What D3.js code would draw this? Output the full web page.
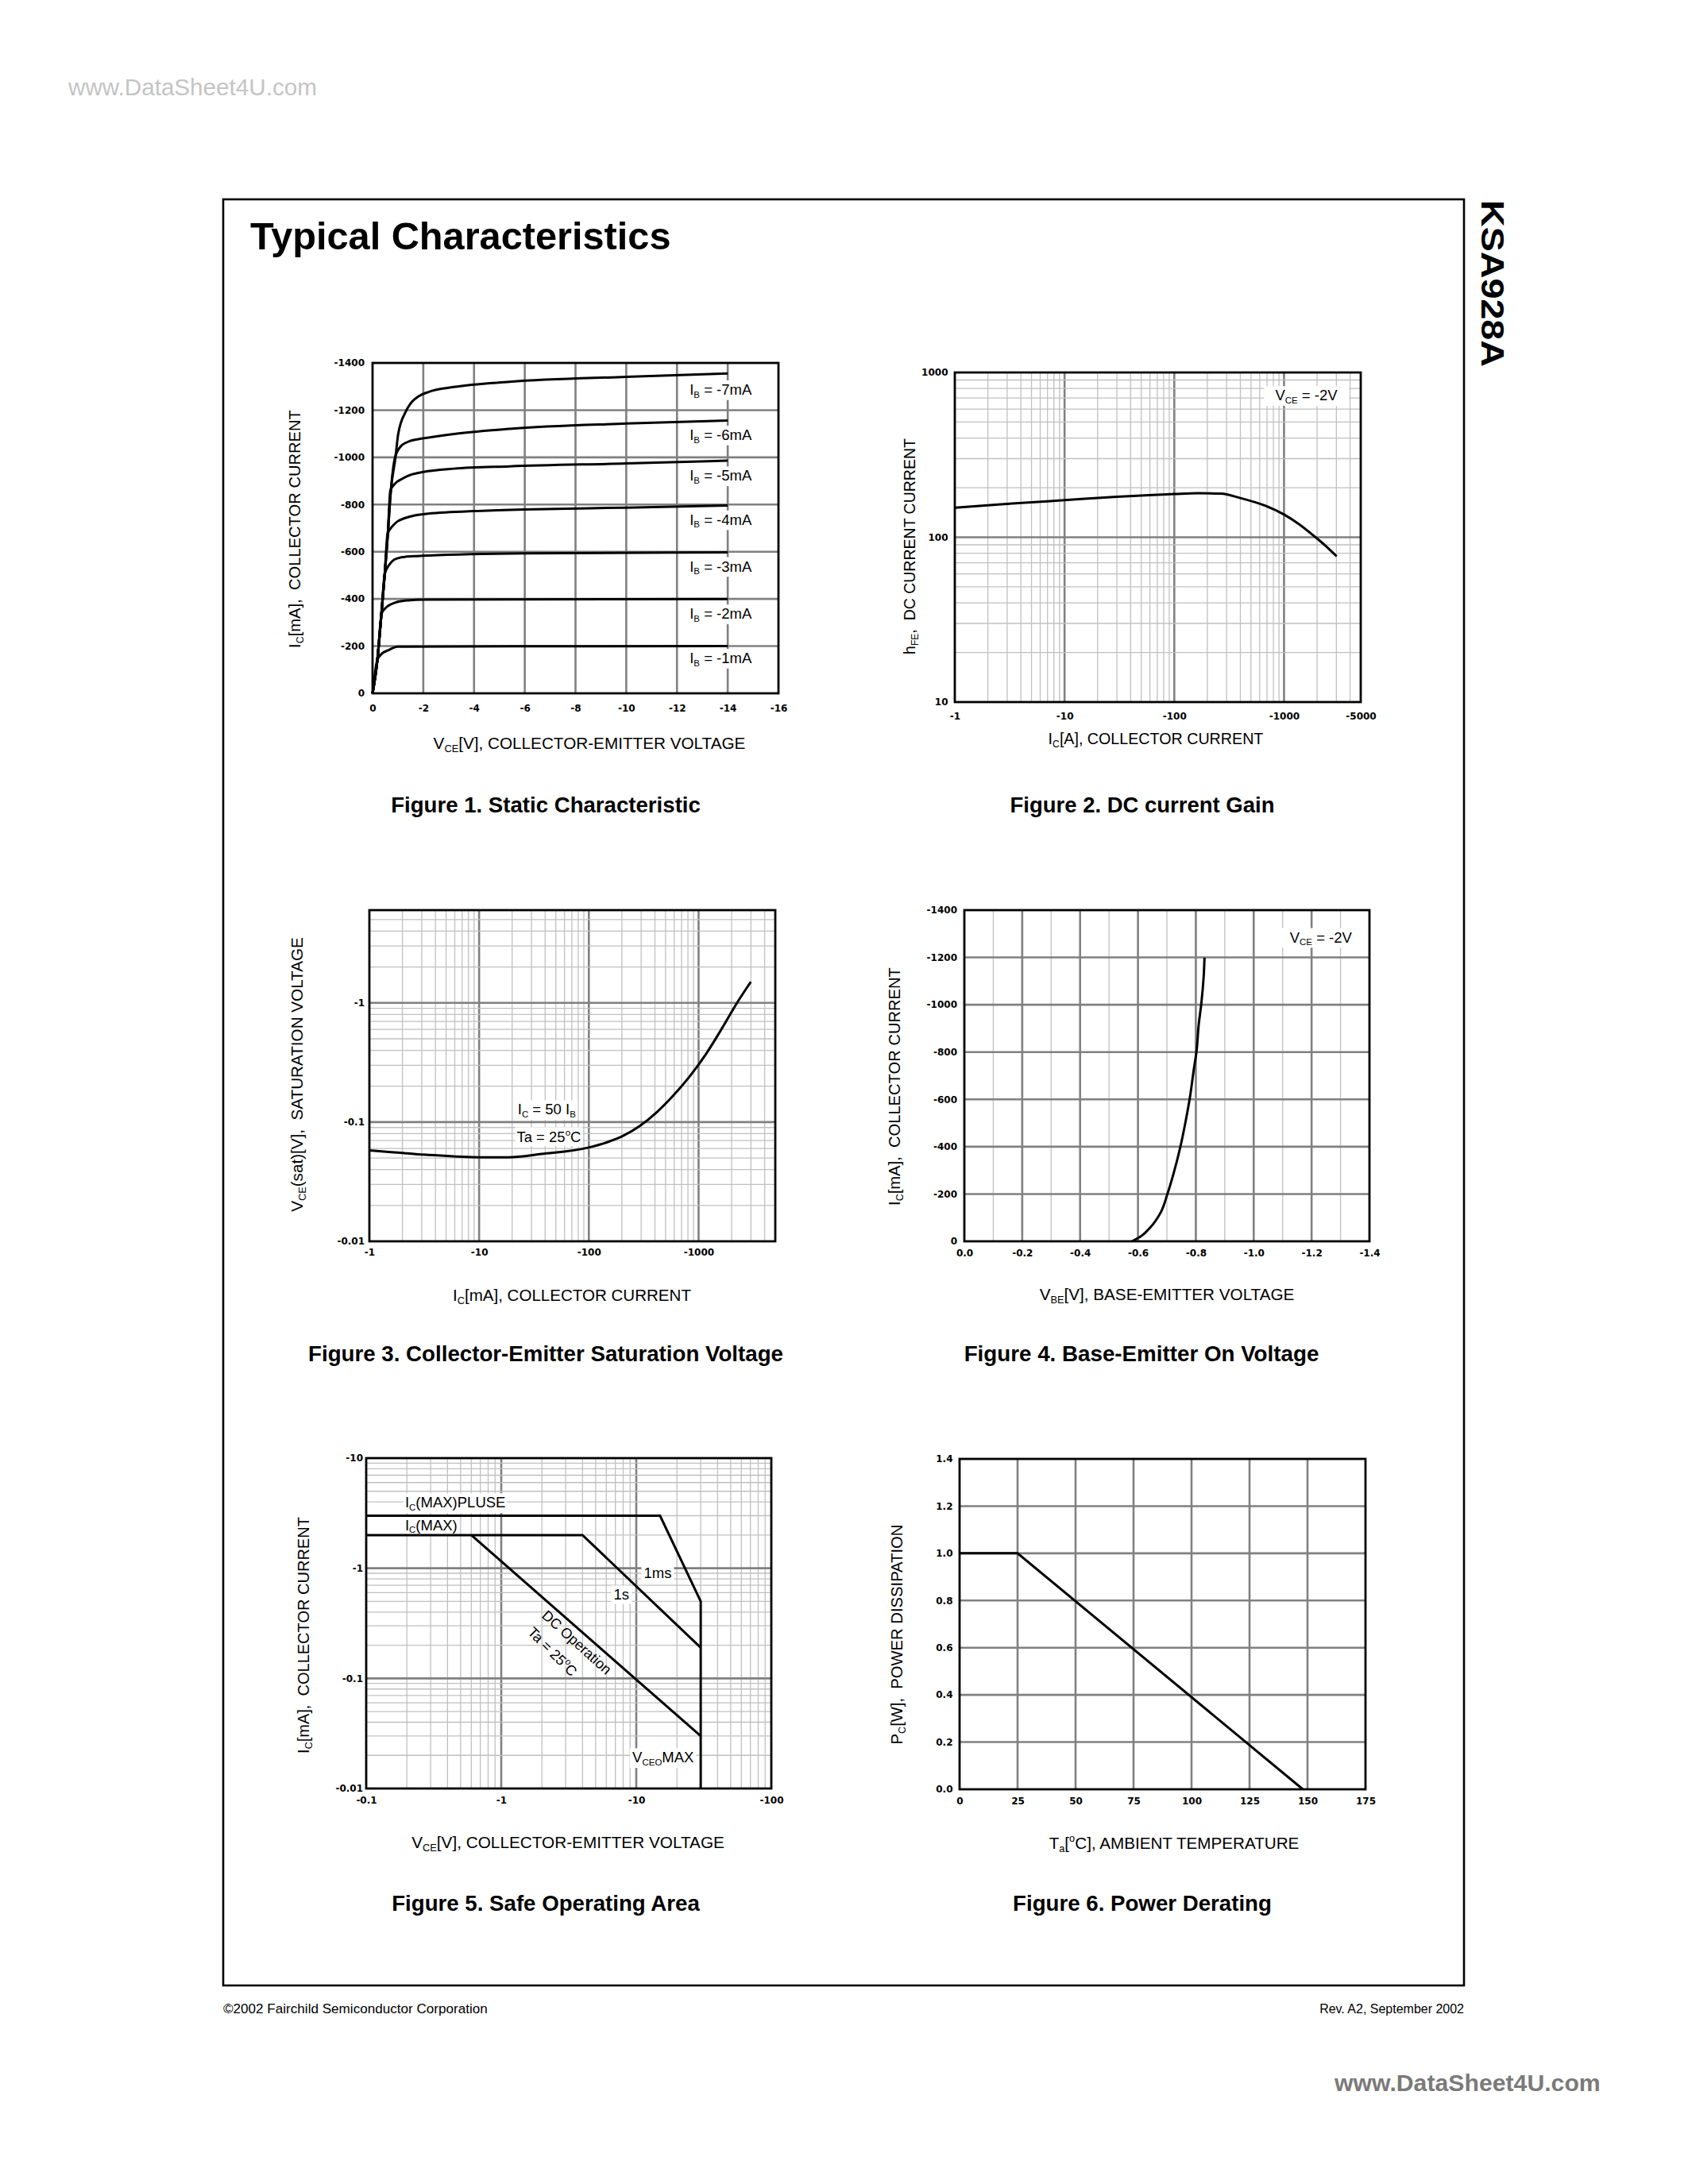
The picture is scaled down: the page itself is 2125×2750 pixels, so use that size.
<!DOCTYPE html>
<html><head><meta charset="utf-8"><title>KSA928A Typical Characteristics</title>
<script src="https://cdn.jsdelivr.net/npm/d3@7/dist/d3.min.js"></script>
<style>html,body{margin:0;padding:0;background:#fff}svg{display:block}text{white-space:pre}</style>
</head><body>
<svg id="page" width="2125" height="2750" xmlns="http://www.w3.org/2000/svg"></svg>
<script>
// ================= DATA =================
// Figure 1 – Static characteristic  (VCE [V], IC [mA])
const fig1XTicks = [0,-2,-4,-6,-8,-10,-12,-14,-16];
const fig1XLabels = ["0","-2","-4","-6","-8","-10","-12","-14","-16"];
const fig1YTicks = [0,-200,-400,-600,-800,-1000,-1200,-1400];
const fig1YLabels = ["0","-200","-400","-600","-800","-1000","-1200","-1400"];
const fig1IbNames = ["-7mA","-6mA","-5mA","-4mA","-3mA","-2mA","-1mA"];
const fig1Ib7 = [[0,0],[-0.19,-142],[-0.35,-338],[-0.48,-505],[-0.6,-673],[-0.72,-858],[-0.9,-997],[-1.01,-1098],[-1.3,-1192],[-1.55,-1235],[-1.8,-1258],[-2.2,-1277],[-3.2,-1298],[-5.4,-1320],[-10,-1341],[-14,-1355]];
const fig1Ib6 = [[0,0],[-0.19,-142],[-0.35,-338],[-0.48,-505],[-0.6,-673],[-0.72,-858],[-0.88,-997],[-1.1,-1045],[-1.4,-1066],[-1.8,-1077],[-2.2,-1084],[-3.2,-1099],[-5.4,-1121],[-10,-1143],[-14,-1156]];
const fig1Ib5 = [[0,0],[-0.19,-142],[-0.35,-338],[-0.48,-505],[-0.6,-673],[-0.7,-858],[-0.88,-888],[-1.15,-908],[-1.5,-926],[-2.0,-938],[-3.2,-952],[-5.4,-962],[-10,-974],[-14,-986]];
const fig1Ib4 = [[0,0],[-0.19,-142],[-0.35,-338],[-0.48,-505],[-0.59,-673],[-0.79,-709],[-0.99,-729],[-1.26,-742],[-1.66,-754],[-2.06,-760],[-4,-772],[-6,-779],[-10,-787],[-14,-796]];
const fig1Ib3 = [[0,0],[-0.19,-142],[-0.35,-338],[-0.48,-505],[-0.66,-545],[-0.86,-567],[-1.12,-576],[-1.66,-581],[-2.2,-584],[-6,-593],[-14,-597]];
const fig1Ib2 = [[0,0],[-0.19,-142],[-0.36,-338],[-0.55,-365],[-0.72,-377],[-0.99,-388],[-1.39,-394],[-2.06,-397],[-14,-400]];
const fig1Ib1 = [[0,0],[-0.19,-142],[-0.39,-170],[-0.59,-181],[-0.99,-198],[-14,-200]];

// Figure 2 – DC current gain (IC, hFE), VCE = -2V
const fig2XTicks = [-1,-10,-100,-1000,-5000];
const fig2XLabels = ["-1","-10","-100","-1000","-5000"];
const fig2YTicks = [10,100,1000];
const fig2YLabels = ["10","100","1000"];
const fig2Ic  = [-1,-2.8,-10,-30,-100,-165,-265,-400,-686,-1000,-1353,-1900,-2416,-3020];
const fig2Hfe = [151,159,168,176,183,185,184,173,154.7,137.4,120.8,101.1,88.2,76.6];

// Figure 3 – Collector-emitter saturation voltage (IC [mA], VCE(sat) [V])
const fig3XTicks = [-1,-10,-100,-1000];
const fig3XLabels = ["-1","-10","-100","-1000"];
const fig3YTicks = [-0.01,-0.1,-1];
const fig3YLabels = ["-0.01","-0.1","-1"];
const fig3Ic   = [-1,-3.3,-10,-18.5,-37,-100,-147,-207,-293,-413,-583,-824,-1163,-1643,-2240,-2994];
const fig3Vsat = [-0.058,-0.0533,-0.0507,-0.0507,-0.054,-0.0612,-0.0678,-0.077,-0.0932,-0.1204,-0.1656,-0.2398,-0.3701,-0.6166,-1.0,-1.502];

// Figure 4 – Base-emitter on voltage (VBE [V], IC [mA])
const fig4XTicks = [0,-0.2,-0.4,-0.6,-0.8,-1.0,-1.2,-1.4];
const fig4XLabels = ["0.0","-0.2","-0.4","-0.6","-0.8","-1.0","-1.2","-1.4"];
const fig4YTicks = [0,-200,-400,-600,-800,-1000,-1200,-1400];
const fig4YLabels = ["0","-200","-400","-600","-800","-1000","-1200","-1400"];
const fig4Vbe = [-0.579,-0.611,-0.645,-0.679,-0.702,-0.724,-0.747,-0.764,-0.779,-0.793,-0.802,-0.81,-0.819,-0.827,-0.83];
const fig4Ic  = [0,-22,-62,-123,-201,-291,-402,-503,-604,-727,-800,-917,-1006,-1118,-1199];

// Figure 5 – Safe operating area (VCE [V], IC [A])
const fig5XTicks = [-0.1,-1,-10,-100];
const fig5XLabels = ["-0.1","-1","-10","-100"];
const fig5YTicks = [-0.01,-0.1,-1,-10];
const fig5YLabels = ["-0.01","-0.1","-1","-10"];
const fig5PulseV = [-0.1,-15,-30,-30];
const fig5PulseI = [-3,-3,-0.5,-0.01];
const fig5OneSecV = [-0.1,-4,-30];
const fig5OneSecI = [-2,-2,-0.19];
const fig5DcV = [-0.6,-30];
const fig5DcI = [-2,-0.03];

// Figure 6 – Power derating (Ta [°C], PC [W])
const fig6XTicks = [0,25,50,75,100,125,150,175];
const fig6XLabels = ["0","25","50","75","100","125","150","175"];
const fig6YTicks = [0,0.2,0.4,0.6,0.8,1.0,1.2,1.4];
const fig6YLabels = ["0.0","0.2","0.4","0.6","0.8","1.0","1.2","1.4"];
const fig6Ta = [0,25,148];
const fig6Pc = [1.0,1.0,0];

// ================= DRAWING =================
const svg = d3.select('#page');
const FONT = "'Liberation Sans', Arial, Helvetica, sans-serif";
const TFONT = "'DejaVu Sans', 'Liberation Sans', sans-serif";
svg.append('rect').attr('width',2125).attr('height',2750).attr('fill','#fff');
const gridLayer = svg.append('g');
const boxLayer = svg.append('g');
const curveLayer = svg.append('g');
const frameLayer = svg.append('g');
const textLayer = svg.append('g');

function rich(parent, parts, size, opts) {
  opts = opts || {};
  const t = parent.append('text').attr('font-family', FONT).attr('font-size', size)
    .attr('font-weight', opts.weight || 'normal').attr('fill', opts.fill || '#000');
  if (opts.anchor) t.attr('text-anchor', opts.anchor);
  let shift = 0;
  parts.forEach(p => {
    const txt = Array.isArray(p) ? p[0] : p;
    const mode = Array.isArray(p) ? p[1] : '';
    const ts = t.append('tspan').text(txt);
    let target = 0;
    if (mode === 'sub') { ts.attr('font-size', size * 0.62); target = size * 0.2; }
    else if (mode === 'sup') { ts.attr('font-size', size * 0.62); target = -size * 0.42; }
    if (target !== shift) { ts.attr('dy', target - shift); shift = target; }
  });
  return t;
}
function fitRich(parent, parts, size, width, opts) {
  let t = rich(parent, parts, size, opts);
  const w = t.node().getBBox().width;
  t.remove();
  return rich(parent, parts, size * width / w, opts);
}
function hTitle(parts, cx, baseline, width, opts) {
  opts = Object.assign({anchor: 'middle'}, opts || {});
  const t = fitRich(textLayer, parts, 20, width, opts);
  t.attr('x', cx).attr('y', baseline);
  return t;
}
function vTitle(parts, bx, cy, width) {
  const t = fitRich(textLayer, parts, 20, width, {anchor: 'middle'});
  t.attr('transform', `translate(${bx},${cy}) rotate(-90)`);
  return t;
}
function label(parts, size, x, yc, anchor, box) {
  const t = rich(textLayer, parts, size, {anchor: anchor || 'start'});
  t.attr('x', x).attr('y', yc + size * 0.36);
  if (box) {
    const b = t.node().getBBox();
    boxLayer.append('rect').attr('x', b.x - box).attr('y', b.y - 1).attr('width', b.width + 2 * box)
      .attr('height', b.height + 2).attr('fill', '#fff');
  }
  return t;
}
function isPow10(v) { const l = Math.log10(Math.abs(v)); return Math.abs(l - Math.round(l)) < 1e-9; }

function gridV(xs, vals, P, major) {
  gridLayer.append('g').selectAll('line').data(vals).join('line')
    .attr('x1', d => xs(d)).attr('x2', d => xs(d)).attr('y1', P.t).attr('y2', P.b)
    .attr('stroke', major ? '#808080' : '#c0c0c0').attr('stroke-width', major ? 2.6 : 1.3);
}
function gridH(ys, vals, P, major) {
  gridLayer.append('g').selectAll('line').data(vals).join('line')
    .attr('y1', d => ys(d)).attr('y2', d => ys(d)).attr('x1', P.l).attr('x2', P.r)
    .attr('stroke', major ? '#808080' : '#c0c0c0').attr('stroke-width', major ? 2.6 : 1.3);
}
function logGrid(xs, P, vertical) {
  const dom = xs.domain();
  const vals = xs.ticks().filter(v => Math.abs(v - dom[0]) > 1e-12 && Math.abs(v - dom[1]) > 1e-12);
  const maj = vals.filter(isPow10), min = vals.filter(v => !isPow10(v));
  if (vertical) { gridV(xs, min, P, false); gridV(xs, maj, P, true); }
  else { gridH(xs, min, P, false); gridH(xs, maj, P, true); }
}
function frame(P) {
  frameLayer.append('rect').attr('x', P.l).attr('y', P.t).attr('width', P.r - P.l).attr('height', P.b - P.t)
    .attr('fill', 'none').attr('stroke', '#000').attr('stroke-width', 2.8);
}
function axes(xs, ys, P, xt, xl, yt, yl, xp, yp) {
  const gx = textLayer.append('g').attr('transform', `translate(0,${P.b})`)
    .call(d3.axisBottom(xs).tickValues(xt).tickFormat((d, i) => xl[i]).tickSize(0).tickPadding(xp));
  gx.select('.domain').remove();
  gx.attr('font-family', TFONT).attr('font-size', 12).attr('font-weight', 'bold');
  const gy = textLayer.append('g').attr('transform', `translate(${P.l},0)`)
    .call(d3.axisLeft(ys).tickValues(yt).tickFormat((d, i) => yl[i]).tickSize(0).tickPadding(yp));
  gy.select('.domain').remove();
  gy.attr('font-family', TFONT).attr('font-size', 12).attr('font-weight', 'bold');
}
function curve(xs, ys, pts, c) {
  curveLayer.append('path').datum(pts)
    .attr('d', d3.line().x(d => xs(d[0])).y(d => ys(d[1])).curve(c || d3.curveLinear))
    .attr('fill', 'none').attr('stroke', '#000').attr('stroke-width', 3)
    .attr('stroke-linejoin', 'miter').attr('stroke-linecap', 'butt');
}

// ---------- Page furniture ----------
{
  const w = fitRich(textLayer, ['www.DataSheet4U.com'], 27, 314, {fill: '#c4c4c4'});
  w.attr('x', 86).attr('y', 120);
}
frameLayer.append('rect').attr('x', 281).attr('y', 251).attr('width', 1562).attr('height', 2249)
  .attr('fill', 'none').attr('stroke', '#000').attr('stroke-width', 2.6);
textLayer.append('text').attr('x', 315).attr('y', 314).attr('font-family', FONT).attr('font-size', 48.7)
  .attr('font-weight', 'bold').text('Typical Characteristics');
textLayer.append('text').attr('transform', 'translate(1865,252) rotate(90)').attr('font-family', FONT)
  .attr('font-size', 40).attr('font-weight', 'bold').attr('textLength', 210).attr('lengthAdjust', 'spacingAndGlyphs')
  .text('KSA928A');
{
  const f1 = fitRich(textLayer, ['©2002 Fairchild Semiconductor Corporation'], 15, 333, {});
  f1.attr('x', 281).attr('y', 2535);
  const f2 = fitRich(textLayer, ['Rev. A2, September 2002'], 15, 182, {anchor: 'end'});
  f2.attr('x', 1843).attr('y', 2535);
  const w = fitRich(textLayer, ['www.DataSheet4U.com'], 28, 336, {weight: 'bold', fill: '#7a7a7a'});
  w.attr('x', 1680).attr('y', 2633);
}

// Figure captions
hTitle(['Figure 1. Static Characteristic'], 687, 1023, 390, {weight: 'bold'});
hTitle(['Figure 2. DC current Gain'], 1438, 1023, 333, {weight: 'bold'});
hTitle(['Figure 3. Collector-Emitter Saturation Voltage'], 687, 1714, 598, {weight: 'bold'});
hTitle(['Figure 4. Base-Emitter On Voltage'], 1437, 1714, 447, {weight: 'bold'});
hTitle(['Figure 5. Safe Operating Area'], 687, 2406, 389, {weight: 'bold'});
hTitle(['Figure 6. Power Derating'], 1438, 2406, 326, {weight: 'bold'});

// ---------- Figure 1 ----------
{
  const P = {l: 469, r: 980, t: 457, b: 873};
  const x = d3.scaleLinear().domain([0, -16]).range([P.l, P.r]);
  const y = d3.scaleLinear().domain([0, -1400]).range([P.b, P.t]);
  gridV(x, fig1XTicks.slice(1, -1), P, true);
  gridH(y, fig1YTicks.slice(1, -1), P, true);
  [fig1Ib1, fig1Ib2, fig1Ib3, fig1Ib4, fig1Ib5, fig1Ib6, fig1Ib7].forEach(c => curve(x, y, c, d3.curveMonotoneX));
  frame(P);
  axes(x, y, P, fig1XTicks, fig1XLabels, fig1YTicks, fig1YLabels, 14, 10);
  const labY = [-1288, -1096, -923, -737, -539, -338, -150];
  fig1IbNames.forEach((n, i) => label(['I', ['B', 'sub'], ' = ' + n], 18.5, x(-12.5), y(labY[i]), 'start', 4));
  hTitle(['V', ['CE', 'sub'], '[V], COLLECTOR-EMITTER VOLTAGE'], 742, 943, 393);
  vTitle(['I', ['C', 'sub'], '[mA],  COLLECTOR CURRENT'], 378, 666, 300);
}

// ---------- Figure 2 ----------
{
  const P = {l: 1202, r: 1713, t: 469, b: 884};
  const x = d3.scaleLog().domain([-1, -5000]).range([P.l, P.r]);
  const y = d3.scaleLog().domain([10, 1000]).range([P.b, P.t]);
  logGrid(x, P, true); logGrid(y, P, false);
  curve(x, y, d3.zip(fig2Ic, fig2Hfe), d3.curveMonotoneX);
  frame(P);
  axes(x, y, P, fig2XTicks, fig2XLabels, fig2YTicks, fig2YLabels, 13, 8.5);
  label(['V', ['CE', 'sub'], ' = -2V'], 18.5, x(-1596), y(728), 'middle', 14);
  hTitle(['I', ['C', 'sub'], '[A], COLLECTOR CURRENT'], 1455, 937, 271);
  vTitle(['h', ['FE', 'sub'], ',  DC CURRENT CURRENT'], 1152, 688, 272);
}

// ---------- Figure 3 ----------
{
  const P = {l: 465, r: 976, t: 1146, b: 1563};
  const x = d3.scaleLog().domain([-1, -5000]).range([P.l, P.r]);
  const y = d3.scaleLog().domain([-0.01, -6]).range([P.b, P.t]);
  logGrid(x, P, true); logGrid(y, P, false);
  curve(x, y, d3.zip(fig3Ic, fig3Vsat), d3.curveMonotoneX);
  frame(P);
  axes(x, y, P, fig3XTicks, fig3XLabels, fig3YTicks, fig3YLabels, 9, 6);
  label(['I', ['C', 'sub'], ' = 50 I', ['B', 'sub']], 18.5, x(-22.5), y(-0.128), 'start', 2);
  label(['Ta = 25', ['o', 'sup'], 'C'], 18.5, x(-22), y(-0.0752), 'start', 2);
  hTitle(['I', ['C', 'sub'], '[mA], COLLECTOR CURRENT'], 720, 1638, 300);
  vTitle(['V', ['CE', 'sub'], '(sat)[V],  SATURATION VOLTAGE'], 381, 1353, 346);
}

// ---------- Figure 4 ----------
{
  const P = {l: 1214, r: 1724, t: 1146, b: 1563};
  const x = d3.scaleLinear().domain([0, -1.4]).range([P.l, P.r]);
  const y = d3.scaleLinear().domain([0, -1400]).range([P.b, P.t]);
  const xt = x.ticks(14).filter(v => v !== 0 && Math.abs(v + 1.4) > 1e-9);
  gridV(x, xt.filter(v => Math.round(Math.abs(v) * 10) % 2 === 1), P, false);
  gridV(x, xt.filter(v => Math.round(Math.abs(v) * 10) % 2 === 0), P, true);
  gridH(y, fig4YTicks.slice(1, -1), P, true);
  label(['V', ['CE', 'sub'], ' = -2V'], 18.5, x(-1.232), y(-1286), 'middle', 14);
  curve(x, y, d3.zip(fig4Vbe, fig4Ic), d3.curveMonotoneY);
  frame(P);
  axes(x, y, P, fig4XTicks, fig4XLabels, fig4YTicks, fig4YLabels, 10.5, 9);
  hTitle(['V', ['BE', 'sub'], '[V], BASE-EMITTER VOLTAGE'], 1469, 1637, 321);
  vTitle(['I', ['C', 'sub'], '[mA],  COLLECTOR CURRENT'], 1133, 1368, 300);
}

// ---------- Figure 5 ----------
{
  const P = {l: 461, r: 971, t: 1836, b: 2252};
  const x = d3.scaleLog().domain([-0.1, -100]).range([P.l, P.r]);
  const y = d3.scaleLog().domain([-0.01, -10]).range([P.b, P.t]);
  logGrid(x, P, true); logGrid(y, P, false);
  label(['I', ['C', 'sub'], '(MAX)PLUSE'], 18.5, x(-0.194), y(-3.97), 'start', 2);
  label(['I', ['C', 'sub'], '(MAX)'], 18.5, x(-0.194), y(-2.48), 'start', 2);
  label(['1ms'], 18.5, x(-14.4), y(-0.917), 'middle', 3);
  label(['1s'], 18.5, x(-7.76), y(-0.577), 'middle', 3);
  label(['V', ['CEO', 'sub'], 'MAX'], 18.5, x(-15.8), y(-0.0192), 'middle', 3);
  curve(x, y, d3.zip(fig5PulseV, fig5PulseI));
  curve(x, y, d3.zip(fig5OneSecV, fig5OneSecI));
  curve(x, y, d3.zip(fig5DcV, fig5DcI));
  frame(P);
  axes(x, y, P, fig5XTicks, fig5XLabels, fig5YTicks, fig5YLabels, 10, 4);
  const dc = rich(textLayer, ['DC Operation'], 18, {anchor: 'middle'});
  dc.attr('transform', `translate(${x(-3.62)},${y(-0.212)}) rotate(42)`).attr('y', 6);
  const ta = rich(textLayer, ['Ta = 25', ['o', 'sup'], 'C'], 18, {anchor: 'middle'});
  ta.attr('transform', `translate(${x(-2.39)},${y(-0.1745)}) rotate(45)`).attr('y', 6);
  hTitle(['V', ['CE', 'sub'], '[V], COLLECTOR-EMITTER VOLTAGE'], 715, 2327, 394);
  vTitle(['I', ['C', 'sub'], '[mA],  COLLECTOR CURRENT'], 389, 2059, 298);
}

// ---------- Figure 6 ----------
{
  const P = {l: 1208, r: 1719, t: 1837, b: 2253};
  const x = d3.scaleLinear().domain([0, 175]).range([P.l, P.r]);
  const y = d3.scaleLinear().domain([0, 1.4]).range([P.b, P.t]);
  gridV(x, fig6XTicks.slice(1, -1), P, true);
  gridH(y, fig6YTicks.slice(1, -1), P, true);
  curve(x, y, d3.zip(fig6Ta, fig6Pc));
  frame(P);
  axes(x, y, P, fig6XTicks, fig6XLabels, fig6YTicks, fig6YLabels, 10.5, 8.5);
  hTitle(['T', ['a', 'sub'], '[', ['o', 'sup'], 'C], AMBIENT TEMPERATURE'], 1478, 2328, 315);
  vTitle(['P', ['C', 'sub'], '[W],  POWER DISSIPATION'], 1136, 2058, 277);
}
</script>
</body></html>
